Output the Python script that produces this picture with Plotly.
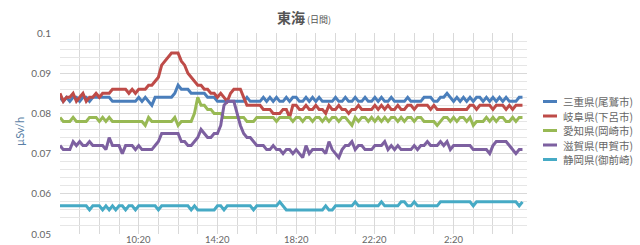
import plotly.graph_objects as go
import pandas as pd

# ---- data ----
times = [t.strftime("%-H:%M") for t in pd.date_range("2011-01-01 06:20", periods=142, freq="10min")]
tick_labels = ["10:20", "14:20", "18:20", "22:20", "2:20"]
y_ticks = [0.05, 0.06, 0.07, 0.08, 0.09, 0.1]
y_tick_text = ["0.05", "0.06", "0.07", "0.08", "0.09", "0.1"]

series_names = ["三重県(尾鷲市)", "岐阜県(下呂市)", "愛知県(岡崎市)", "滋賀県(甲賀市)", "静岡県(御前崎)"]

mie = [
    0.084, 0.083, 0.084, 0.083, 0.084, 0.084, 0.083, 0.084, 0.084, 0.083,
    0.084, 0.084, 0.084, 0.084, 0.084, 0.084, 0.083, 0.083, 0.083, 0.083,
    0.083, 0.083, 0.083, 0.083, 0.084, 0.083, 0.084, 0.083, 0.082, 0.084,
    0.084, 0.084, 0.084, 0.084, 0.084, 0.085, 0.087, 0.086, 0.086, 0.086,
    0.085, 0.085, 0.085, 0.085, 0.085, 0.084, 0.084, 0.084, 0.083, 0.083,
    0.083, 0.083, 0.083, 0.083, 0.083, 0.083, 0.083, 0.084, 0.083, 0.083,
    0.083, 0.083, 0.084, 0.083, 0.084, 0.083, 0.084, 0.083, 0.083, 0.084,
    0.083, 0.084, 0.084, 0.083, 0.083, 0.084, 0.083, 0.084, 0.083, 0.084,
    0.083, 0.083, 0.083, 0.083, 0.084, 0.083, 0.083, 0.084, 0.083, 0.083,
    0.084, 0.083, 0.083, 0.084, 0.083, 0.083, 0.084, 0.083, 0.084, 0.083,
    0.083, 0.084, 0.083, 0.083, 0.083, 0.083, 0.084, 0.083, 0.083, 0.083,
    0.083, 0.084, 0.084, 0.084, 0.083, 0.083, 0.084, 0.084, 0.085, 0.084,
    0.083, 0.084, 0.083, 0.084, 0.083, 0.084, 0.083, 0.084, 0.084, 0.083,
    0.084, 0.083, 0.084, 0.083, 0.084, 0.083, 0.084, 0.083, 0.083, 0.083, 0.084, 0.084,
]

gifu = [
    0.085, 0.083, 0.084, 0.084, 0.085, 0.083, 0.084, 0.085, 0.083, 0.084,
    0.084, 0.085, 0.084, 0.085, 0.085, 0.085, 0.086, 0.086, 0.086, 0.086,
    0.086, 0.085, 0.086, 0.085, 0.086, 0.086, 0.086, 0.087, 0.087, 0.088,
    0.089, 0.092, 0.093, 0.094, 0.095, 0.095, 0.095, 0.093, 0.092, 0.090,
    0.089, 0.088, 0.087, 0.087, 0.086, 0.086, 0.085, 0.085, 0.084, 0.085,
    0.084, 0.083, 0.085, 0.086, 0.086, 0.086, 0.084, 0.082, 0.082, 0.082,
    0.082, 0.082, 0.081, 0.081, 0.081, 0.080, 0.080, 0.080, 0.081, 0.081,
    0.079, 0.082, 0.082, 0.081, 0.081, 0.082, 0.081, 0.081, 0.082, 0.081,
    0.081, 0.080, 0.082, 0.081, 0.081, 0.082, 0.081, 0.081, 0.080, 0.081,
    0.081, 0.082, 0.081, 0.081, 0.081, 0.081, 0.082, 0.081, 0.082, 0.081,
    0.082, 0.081, 0.081, 0.082, 0.081, 0.081, 0.082, 0.082, 0.081, 0.082,
    0.082, 0.082, 0.082, 0.081, 0.082, 0.081, 0.081, 0.081, 0.081, 0.081,
    0.081, 0.081, 0.081, 0.081, 0.081, 0.082, 0.082, 0.081, 0.082, 0.082,
    0.082, 0.082, 0.081, 0.082, 0.082, 0.082, 0.081, 0.082, 0.081, 0.082, 0.082, 0.082,
]

aichi = [
    0.079, 0.078, 0.078, 0.078, 0.079, 0.078, 0.078, 0.078, 0.078, 0.079,
    0.079, 0.079, 0.078, 0.079, 0.078, 0.079, 0.078, 0.078, 0.078, 0.078,
    0.078, 0.078, 0.078, 0.078, 0.078, 0.078, 0.077, 0.079, 0.078, 0.078,
    0.078, 0.078, 0.078, 0.078, 0.078, 0.079, 0.077, 0.078, 0.078, 0.078,
    0.078, 0.080, 0.084, 0.082, 0.082, 0.081, 0.081, 0.080, 0.080, 0.080,
    0.079, 0.079, 0.079, 0.079, 0.079, 0.079, 0.079, 0.078, 0.078, 0.078,
    0.079, 0.079, 0.079, 0.079, 0.079, 0.079, 0.078, 0.079, 0.079, 0.079,
    0.079, 0.078, 0.079, 0.079, 0.078, 0.079, 0.079, 0.078, 0.079, 0.079,
    0.078, 0.079, 0.078, 0.079, 0.079, 0.078, 0.079, 0.079, 0.078, 0.077,
    0.079, 0.078, 0.079, 0.079, 0.078, 0.079, 0.078, 0.079, 0.078, 0.079,
    0.078, 0.079, 0.079, 0.078, 0.079, 0.078, 0.079, 0.079, 0.078, 0.079,
    0.079, 0.078, 0.078, 0.078, 0.078, 0.077, 0.078, 0.079, 0.079, 0.078,
    0.079, 0.078, 0.079, 0.079, 0.078, 0.079, 0.077, 0.078, 0.078, 0.078,
    0.079, 0.078, 0.079, 0.078, 0.079, 0.079, 0.078, 0.078, 0.079, 0.078, 0.079, 0.079,
]

shiga = [
    0.072, 0.071, 0.071, 0.071, 0.073, 0.072, 0.073, 0.072, 0.072, 0.073,
    0.072, 0.072, 0.072, 0.072, 0.071, 0.074, 0.072, 0.072, 0.072, 0.070,
    0.072, 0.072, 0.072, 0.071, 0.072, 0.071, 0.071, 0.071, 0.071, 0.072,
    0.073, 0.075, 0.075, 0.075, 0.075, 0.075, 0.075, 0.073, 0.073, 0.072,
    0.072, 0.073, 0.074, 0.076, 0.075, 0.074, 0.074, 0.075, 0.075, 0.077,
    0.082, 0.083, 0.083, 0.083, 0.080, 0.077, 0.075, 0.074, 0.074, 0.073,
    0.072, 0.072, 0.072, 0.071, 0.071, 0.072, 0.071, 0.071, 0.070, 0.071,
    0.071, 0.070, 0.071, 0.070, 0.069, 0.072, 0.070, 0.071, 0.071, 0.071,
    0.071, 0.070, 0.073, 0.071, 0.070, 0.069, 0.071, 0.072, 0.072, 0.073,
    0.071, 0.072, 0.072, 0.071, 0.071, 0.071, 0.072, 0.072, 0.072, 0.073,
    0.071, 0.072, 0.071, 0.072, 0.071, 0.071, 0.071, 0.071, 0.072, 0.071,
    0.072, 0.072, 0.073, 0.072, 0.072, 0.072, 0.073, 0.072, 0.073, 0.071,
    0.072, 0.072, 0.072, 0.072, 0.072, 0.072, 0.071, 0.071, 0.071, 0.071,
    0.071, 0.070, 0.072, 0.073, 0.073, 0.073, 0.073, 0.072, 0.071, 0.070, 0.071, 0.071,
]

shizuoka = [
    0.057, 0.057, 0.057, 0.057, 0.057, 0.057, 0.057, 0.057, 0.057, 0.056,
    0.057, 0.057, 0.057, 0.056, 0.057, 0.056, 0.057, 0.056, 0.057, 0.057,
    0.056, 0.057, 0.057, 0.056, 0.057, 0.057, 0.057, 0.057, 0.057, 0.057,
    0.056, 0.057, 0.057, 0.057, 0.057, 0.057, 0.057, 0.057, 0.057, 0.057,
    0.056, 0.057, 0.056, 0.056, 0.056, 0.056, 0.056, 0.056, 0.057, 0.057,
    0.056, 0.057, 0.057, 0.057, 0.057, 0.057, 0.057, 0.057, 0.057, 0.056,
    0.057, 0.057, 0.057, 0.057, 0.057, 0.057, 0.057, 0.058, 0.057, 0.056,
    0.056, 0.056, 0.056, 0.056, 0.056, 0.056, 0.056, 0.056, 0.056, 0.056,
    0.056, 0.057, 0.056, 0.056, 0.057, 0.057, 0.057, 0.057, 0.057, 0.057,
    0.058, 0.057, 0.057, 0.057, 0.057, 0.057, 0.057, 0.057, 0.058, 0.057,
    0.057, 0.057, 0.057, 0.057, 0.058, 0.058, 0.057, 0.057, 0.058, 0.057,
    0.057, 0.057, 0.057, 0.057, 0.057, 0.057, 0.058, 0.058, 0.058, 0.058,
    0.058, 0.058, 0.058, 0.058, 0.058, 0.058, 0.057, 0.058, 0.058, 0.058,
    0.058, 0.058, 0.058, 0.058, 0.058, 0.058, 0.058, 0.058, 0.058, 0.058, 0.057, 0.058,
]

all_series = [mie, gifu, aichi, shiga, shizuoka]
colors = ["#4A7EBB", "#BE4B48", "#98B954", "#7D60A0", "#46AAC5"]

# ---- layout geometry (pixels) ----
W, H = 640, 245
L, R, T, B = 60, 527, 33, 234
pw, ph = R - L, B - T


def px(x):
    return (x - L) / pw


def py(y):
    return (B - y) / ph


FONT = "Lato, 'Noto Sans CJK JP', sans-serif"
CJK = "'Noto Sans CJK JP', sans-serif"

x_idx = list(range(len(times)))
tickvals = [times.index(t) for t in tick_labels]

fig = go.Figure()
for name, vals, col in zip(series_names, all_series, colors):
    fig.add_trace(go.Scatter(
        x=x_idx, y=vals, mode="lines", name=name,
        line=dict(color=col, width=3), showlegend=False,
        hovertext=times,
    ))

grid = "#d9d9d9"
fig.update_layout(
    width=W, height=H,
    margin=dict(l=L, r=W - R, t=T, b=H - B, pad=0),
    paper_bgcolor="white", plot_bgcolor="white",
    template=None,
    font=dict(family=FONT, size=10, color="#666666"),
    xaxis=dict(
        range=[0, pw / 3.28], tickvals=tickvals, ticktext=tick_labels,
        showticklabels=False,
        showgrid=True, gridcolor=grid, gridwidth=1,
        minor=dict(tick0=0, dtick=6, showgrid=True, gridcolor=grid, gridwidth=1),
        zeroline=False, showline=False, ticks="", automargin=False,
    ),
    yaxis=dict(
        range=[0.05, 0.1], tickvals=y_ticks, ticktext=y_tick_text,
        showgrid=True, gridcolor=grid, gridwidth=1,
        minor=dict(dtick=0.002, showgrid=True, gridcolor="#e6e6e6", gridwidth=1),
        zeroline=False, showline=False, ticks="", automargin=False,
        tickfont=dict(size=10, color="#666666"), ticklabelstandoff=8,
    ),
)

# x tick labels (placed at the data positions of their categories)
for tv, tl in zip(tickvals, tick_labels):
    fig.add_annotation(xref="x", yref="paper", x=tv, y=py(239.5),
                       xanchor="center", yanchor="middle", text=tl, showarrow=False,
                       font=dict(family=FONT, size=9.5, color="#666666"))

# title
fig.add_annotation(
    xref="paper", yref="paper", x=px(303.5), y=py(17), xanchor="center", yanchor="middle",
    text="<b>東海</b><span style='font-size:9px'> (日間)</span>", showarrow=False,
    font=dict(family=CJK, size=14, color="#555555"),
)
# y-axis title
fig.add_annotation(
    xref="paper", yref="paper", x=px(19), y=py(132), xanchor="center", yanchor="middle",
    text="µSv/h", textangle=-90, showarrow=False,
    font=dict(family=FONT, size=11, color="#5B7FA6"),
)

# custom legend
for k, (name, col) in enumerate(zip(series_names, colors)):
    yy = 101.5 + 14.5 * k
    fig.add_shape(type="line", xref="paper", yref="paper",
                  x0=px(543), x1=px(557), y0=py(yy), y1=py(yy),
                  line=dict(color=col, width=3))
    fig.add_annotation(xref="paper", yref="paper", x=px(561), y=py(yy),
                       xanchor="left", yanchor="middle", text=name, showarrow=False,
                       font=dict(family=CJK, size=10.5, color="#666666"))

fig.write_html("out.html")
